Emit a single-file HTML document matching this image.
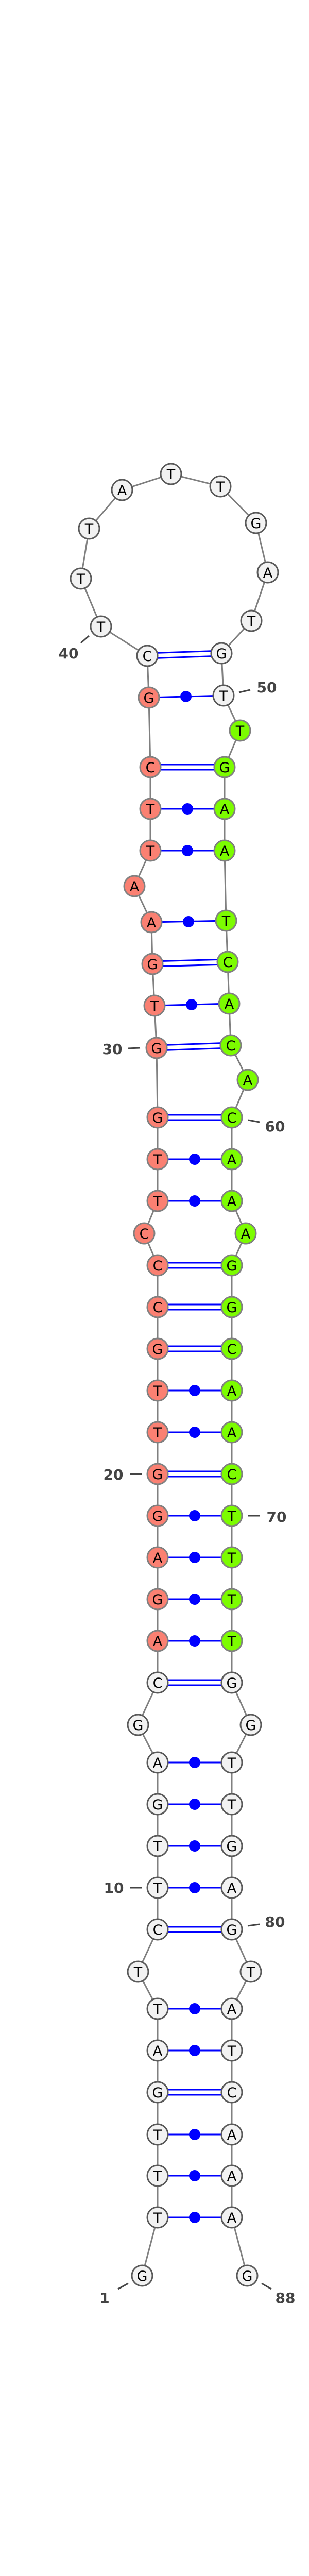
<!DOCTYPE html>
<html><head><meta charset="utf-8"><style>
html,body{margin:0;padding:0;background:#fff;width:600px;height:5278px;overflow:hidden}
svg{display:block;vertical-align:top}
.n circle{stroke-width:3}
.w{fill:#f2f2f2;stroke:#5a5a5a}
.r{fill:#fa8072;stroke:#808080}
.g{fill:#7cfc00;stroke:#808080}
text.l{font-family:"DejaVu Sans","Liberation Sans",sans-serif;font-size:27px;text-anchor:middle;fill:#000}
text.num{font-family:"DejaVu Sans","Liberation Sans",sans-serif;font-size:28px;font-weight:bold;fill:#444}
.bp{stroke:#0000ff;stroke-width:3;fill:none}
.tk{stroke:#444;stroke-width:3}
</style></head><body>
<svg width="600" height="5278" viewBox="0 0 600 5278" xmlns="http://www.w3.org/2000/svg">
<polyline fill="none" stroke="#808080" stroke-width="3" points="276,4417 306,4304 306,4223 306,4143 306,4061 306,3980 306,3899 268,3827 306,3745 306,3664 306,3583 306,3502 306,3421 268,3348 306,3266 306,3185 306,3104 306,3023 306,2942 306,2861 306,2780 306,2699 306,2618 306,2537 306,2456 280,2394 306,2331 306,2250 306,2169 304,2034 300,1952 296,1871 294,1790 261,1720 292,1651 292,1570 292,1489 289,1354 286,1273 196,1216 157,1123 173,1026 237,951 332,920 428,944 497,1015 520,1111 488,1205 430,1268 434,1350 466,1418 436,1489 436,1570 436,1651 439,1787 442,1867 445,1948 448,2029 481,2096 450,2169 450,2250 450,2331 477,2394 450,2456 450,2537 450,2618 450,2699 450,2780 450,2861 450,2942 450,3023 450,3104 450,3185 450,3266 487,3348 450,3421 450,3502 450,3583 450,3664 450,3745 487,3827 450,3899 450,3980 450,4061 450,4143 450,4223 450,4304 480,4417"/>
<g class="bp">
<path d="M286,1268L430,1263M286,1278L430,1273"/>
<path d="M292,1484L436,1484M292,1494L436,1494"/>
<path d="M296,1866L442,1862M296,1876L442,1872"/>
<path d="M304,2029L448,2024M304,2039L448,2034"/>
<path d="M306,2164L450,2164M306,2174L450,2174"/>
<path d="M306,2451L450,2451M306,2461L450,2461"/>
<path d="M306,2532L450,2532M306,2542L450,2542"/>
<path d="M306,2613L450,2613M306,2623L450,2623"/>
<path d="M306,2856L450,2856M306,2866L450,2866"/>
<path d="M306,3261L450,3261M306,3271L450,3271"/>
<path d="M306,3740L450,3740M306,3750L450,3750"/>
<path d="M306,4056L450,4056M306,4066L450,4066"/>
<path d="M289,1354L434,1350M292,1570L436,1570M292,1651L436,1651M294,1790L439,1787M300,1952L445,1948M306,2250L450,2250M306,2331L450,2331M306,2699L450,2699M306,2780L450,2780M306,2942L450,2942M306,3023L450,3023M306,3104L450,3104M306,3185L450,3185M306,3421L450,3421M306,3502L450,3502M306,3583L450,3583M306,3664L450,3664M306,3899L450,3899M306,3980L450,3980M306,4143L450,4143M306,4223L450,4223M306,4304L450,4304"/>
</g>
<g fill="#0000ff">
<circle cx="361" cy="1352" r="11"/><circle cx="364" cy="1570" r="11"/><circle cx="364" cy="1651" r="11"/><circle cx="366" cy="1789" r="11"/><circle cx="372" cy="1950" r="11"/><circle cx="378" cy="2250" r="11"/><circle cx="378" cy="2331" r="11"/><circle cx="378" cy="2699" r="11"/><circle cx="378" cy="2780" r="11"/><circle cx="378" cy="2942" r="11"/><circle cx="378" cy="3023" r="11"/><circle cx="378" cy="3104" r="11"/><circle cx="378" cy="3185" r="11"/><circle cx="378" cy="3421" r="11"/><circle cx="378" cy="3502" r="11"/><circle cx="378" cy="3583" r="11"/><circle cx="378" cy="3664" r="11"/><circle cx="378" cy="3899" r="11"/><circle cx="378" cy="3980" r="11"/><circle cx="378" cy="4143" r="11"/><circle cx="378" cy="4223" r="11"/><circle cx="378" cy="4304" r="11"/>
</g>
<g class="n">
<circle class="w" cx="276" cy="4417" r="20"/><text class="l" x="276" y="4427">G</text>
<circle class="w" cx="306" cy="4304" r="20"/><text class="l" x="306" y="4314">T</text>
<circle class="w" cx="306" cy="4223" r="20"/><text class="l" x="306" y="4233">T</text>
<circle class="w" cx="306" cy="4143" r="20"/><text class="l" x="306" y="4153">T</text>
<circle class="w" cx="306" cy="4061" r="20"/><text class="l" x="306" y="4071">G</text>
<circle class="w" cx="306" cy="3980" r="20"/><text class="l" x="306" y="3990">A</text>
<circle class="w" cx="306" cy="3899" r="20"/><text class="l" x="306" y="3909">T</text>
<circle class="w" cx="268" cy="3827" r="20"/><text class="l" x="268" y="3837">T</text>
<circle class="w" cx="306" cy="3745" r="20"/><text class="l" x="306" y="3755">C</text>
<circle class="w" cx="306" cy="3664" r="20"/><text class="l" x="306" y="3674">T</text>
<circle class="w" cx="306" cy="3583" r="20"/><text class="l" x="306" y="3593">T</text>
<circle class="w" cx="306" cy="3502" r="20"/><text class="l" x="306" y="3512">G</text>
<circle class="w" cx="306" cy="3421" r="20"/><text class="l" x="306" y="3431">A</text>
<circle class="w" cx="268" cy="3348" r="20"/><text class="l" x="268" y="3358">G</text>
<circle class="w" cx="306" cy="3266" r="20"/><text class="l" x="306" y="3276">C</text>
<circle class="r" cx="306" cy="3185" r="20"/><text class="l" x="306" y="3195">A</text>
<circle class="r" cx="306" cy="3104" r="20"/><text class="l" x="306" y="3114">G</text>
<circle class="r" cx="306" cy="3023" r="20"/><text class="l" x="306" y="3033">A</text>
<circle class="r" cx="306" cy="2942" r="20"/><text class="l" x="306" y="2952">G</text>
<circle class="r" cx="306" cy="2861" r="20"/><text class="l" x="306" y="2871">G</text>
<circle class="r" cx="306" cy="2780" r="20"/><text class="l" x="306" y="2790">T</text>
<circle class="r" cx="306" cy="2699" r="20"/><text class="l" x="306" y="2709">T</text>
<circle class="r" cx="306" cy="2618" r="20"/><text class="l" x="306" y="2628">G</text>
<circle class="r" cx="306" cy="2537" r="20"/><text class="l" x="306" y="2547">C</text>
<circle class="r" cx="306" cy="2456" r="20"/><text class="l" x="306" y="2466">C</text>
<circle class="r" cx="280" cy="2394" r="20"/><text class="l" x="280" y="2404">C</text>
<circle class="r" cx="306" cy="2331" r="20"/><text class="l" x="306" y="2341">T</text>
<circle class="r" cx="306" cy="2250" r="20"/><text class="l" x="306" y="2260">T</text>
<circle class="r" cx="306" cy="2169" r="20"/><text class="l" x="306" y="2179">G</text>
<circle class="r" cx="304" cy="2034" r="20"/><text class="l" x="304" y="2044">G</text>
<circle class="r" cx="300" cy="1952" r="20"/><text class="l" x="300" y="1962">T</text>
<circle class="r" cx="296" cy="1871" r="20"/><text class="l" x="296" y="1881">G</text>
<circle class="r" cx="294" cy="1790" r="20"/><text class="l" x="294" y="1800">A</text>
<circle class="r" cx="261" cy="1720" r="20"/><text class="l" x="261" y="1730">A</text>
<circle class="r" cx="292" cy="1651" r="20"/><text class="l" x="292" y="1661">T</text>
<circle class="r" cx="292" cy="1570" r="20"/><text class="l" x="292" y="1580">T</text>
<circle class="r" cx="292" cy="1489" r="20"/><text class="l" x="292" y="1499">C</text>
<circle class="r" cx="289" cy="1354" r="20"/><text class="l" x="289" y="1364">G</text>
<circle class="w" cx="286" cy="1273" r="20"/><text class="l" x="286" y="1283">C</text>
<circle class="w" cx="196" cy="1216" r="20"/><text class="l" x="196" y="1226">T</text>
<circle class="w" cx="157" cy="1123" r="20"/><text class="l" x="157" y="1133">T</text>
<circle class="w" cx="173" cy="1026" r="20"/><text class="l" x="173" y="1036">T</text>
<circle class="w" cx="237" cy="951" r="20"/><text class="l" x="237" y="961">A</text>
<circle class="w" cx="332" cy="920" r="20"/><text class="l" x="332" y="930">T</text>
<circle class="w" cx="428" cy="944" r="20"/><text class="l" x="428" y="954">T</text>
<circle class="w" cx="497" cy="1015" r="20"/><text class="l" x="497" y="1025">G</text>
<circle class="w" cx="520" cy="1111" r="20"/><text class="l" x="520" y="1121">A</text>
<circle class="w" cx="488" cy="1205" r="20"/><text class="l" x="488" y="1215">T</text>
<circle class="w" cx="430" cy="1268" r="20"/><text class="l" x="430" y="1278">G</text>
<circle class="w" cx="434" cy="1350" r="20"/><text class="l" x="434" y="1360">T</text>
<circle class="g" cx="466" cy="1418" r="20"/><text class="l" x="466" y="1428">T</text>
<circle class="g" cx="436" cy="1489" r="20"/><text class="l" x="436" y="1499">G</text>
<circle class="g" cx="436" cy="1570" r="20"/><text class="l" x="436" y="1580">A</text>
<circle class="g" cx="436" cy="1651" r="20"/><text class="l" x="436" y="1661">A</text>
<circle class="g" cx="439" cy="1787" r="20"/><text class="l" x="439" y="1797">T</text>
<circle class="g" cx="442" cy="1867" r="20"/><text class="l" x="442" y="1877">C</text>
<circle class="g" cx="445" cy="1948" r="20"/><text class="l" x="445" y="1958">A</text>
<circle class="g" cx="448" cy="2029" r="20"/><text class="l" x="448" y="2039">C</text>
<circle class="g" cx="481" cy="2096" r="20"/><text class="l" x="481" y="2106">A</text>
<circle class="g" cx="450" cy="2169" r="20"/><text class="l" x="450" y="2179">C</text>
<circle class="g" cx="450" cy="2250" r="20"/><text class="l" x="450" y="2260">A</text>
<circle class="g" cx="450" cy="2331" r="20"/><text class="l" x="450" y="2341">A</text>
<circle class="g" cx="477" cy="2394" r="20"/><text class="l" x="477" y="2404">A</text>
<circle class="g" cx="450" cy="2456" r="20"/><text class="l" x="450" y="2466">G</text>
<circle class="g" cx="450" cy="2537" r="20"/><text class="l" x="450" y="2547">G</text>
<circle class="g" cx="450" cy="2618" r="20"/><text class="l" x="450" y="2628">C</text>
<circle class="g" cx="450" cy="2699" r="20"/><text class="l" x="450" y="2709">A</text>
<circle class="g" cx="450" cy="2780" r="20"/><text class="l" x="450" y="2790">A</text>
<circle class="g" cx="450" cy="2861" r="20"/><text class="l" x="450" y="2871">C</text>
<circle class="g" cx="450" cy="2942" r="20"/><text class="l" x="450" y="2952">T</text>
<circle class="g" cx="450" cy="3023" r="20"/><text class="l" x="450" y="3033">T</text>
<circle class="g" cx="450" cy="3104" r="20"/><text class="l" x="450" y="3114">T</text>
<circle class="g" cx="450" cy="3185" r="20"/><text class="l" x="450" y="3195">T</text>
<circle class="w" cx="450" cy="3266" r="20"/><text class="l" x="450" y="3276">G</text>
<circle class="w" cx="487" cy="3348" r="20"/><text class="l" x="487" y="3358">G</text>
<circle class="w" cx="450" cy="3421" r="20"/><text class="l" x="450" y="3431">T</text>
<circle class="w" cx="450" cy="3502" r="20"/><text class="l" x="450" y="3512">T</text>
<circle class="w" cx="450" cy="3583" r="20"/><text class="l" x="450" y="3593">G</text>
<circle class="w" cx="450" cy="3664" r="20"/><text class="l" x="450" y="3674">A</text>
<circle class="w" cx="450" cy="3745" r="20"/><text class="l" x="450" y="3755">G</text>
<circle class="w" cx="487" cy="3827" r="20"/><text class="l" x="487" y="3837">T</text>
<circle class="w" cx="450" cy="3899" r="20"/><text class="l" x="450" y="3909">A</text>
<circle class="w" cx="450" cy="3980" r="20"/><text class="l" x="450" y="3990">T</text>
<circle class="w" cx="450" cy="4061" r="20"/><text class="l" x="450" y="4071">C</text>
<circle class="w" cx="450" cy="4143" r="20"/><text class="l" x="450" y="4153">A</text>
<circle class="w" cx="450" cy="4223" r="20"/><text class="l" x="450" y="4233">A</text>
<circle class="w" cx="450" cy="4304" r="20"/><text class="l" x="450" y="4314">A</text>
<circle class="w" cx="480" cy="4417" r="20"/><text class="l" x="480" y="4427">G</text>
</g>
<g class="tk">
<line x1="157" y1="1248" x2="173" y2="1234"/>
<line x1="464" y1="1344" x2="486" y2="1339"/>
<line x1="249" y1="2035" x2="272" y2="2034"/>
<line x1="482" y1="2174" x2="504" y2="2178"/>
<line x1="252" y1="2861" x2="275" y2="2861"/>
<line x1="481" y1="2942" x2="505" y2="2942"/>
<line x1="252" y1="3664" x2="275" y2="3664"/>
<line x1="481" y1="3738" x2="504" y2="3735"/>
<line x1="229" y1="4443" x2="249" y2="4432"/>
<line x1="508" y1="4432" x2="527" y2="4443"/>
</g>
<text class="num" x="133" y="1278" text-anchor="middle">40</text>
<text class="num" x="518" y="1344" text-anchor="middle">50</text>
<text class="num" x="218" y="2046" text-anchor="middle">30</text>
<text class="num" x="534" y="2196" text-anchor="middle">60</text>
<text class="num" x="220" y="2872" text-anchor="middle">20</text>
<text class="num" x="537" y="2954" text-anchor="middle">70</text>
<text class="num" x="221" y="3674" text-anchor="middle">10</text>
<text class="num" x="534" y="3740" text-anchor="middle">80</text>
<text class="num" x="203" y="4470" text-anchor="middle">1</text>
<text class="num" x="554" y="4470" text-anchor="middle">88</text>
<text x="300" y="5266" text-anchor="middle" font-family="Liberation Sans, sans-serif" font-size="10" font-weight="bold" fill="#000">rno-mir-377_annot [-35.7]</text>
</svg>
</body></html>
